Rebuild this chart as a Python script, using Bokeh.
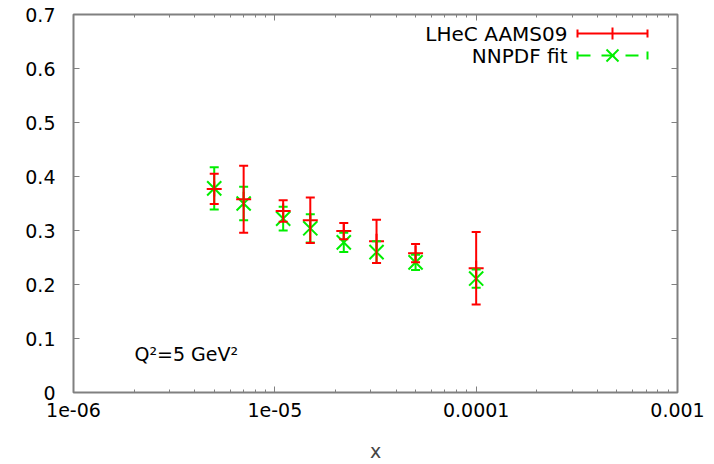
from bokeh.plotting import figure
from bokeh.models import (ColumnDataSource, Whisker, TeeHead, FixedTicker, LinearAxis,
                          LogAxis, Label, Arrow, Range1d)
from bokeh.embed import file_html
from bokeh.resources import INLINE

# ---- data ----
x_vals = [5e-6, 7e-6, 1.1e-5, 1.5e-5, 2.2e-5, 3.2e-5, 5e-5, 1e-4]
lhec_y = [0.377, 0.358, 0.336, 0.319, 0.299, 0.280, 0.258, 0.230]
lhec_err = [0.028, 0.062, 0.020, 0.042, 0.015, 0.040, 0.017, 0.067]
nnpdf_y = [0.378, 0.350, 0.322, 0.304, 0.278, 0.260, 0.241, 0.211]
nnpdf_err = [0.039, 0.031, 0.022, 0.026, 0.018, 0.020, 0.014, 0.017]

series_names = ["LHeC AAMS09", "NNPDF fit"]
annotation_text = "Q\u00b2=5 GeV\u00b2"
x_axis_title = "x"

x_ticks = [1e-6, 1e-5, 1e-4, 1e-3]
x_tick_labels = ["1e-06", "1e-05", "0.0001", "0.001"]
y_ticks = [0.0, 0.1, 0.2, 0.3, 0.4, 0.5, 0.6, 0.7]
y_tick_labels = ["0", "0.1", "0.2", "0.3", "0.4", "0.5", "0.6", "0.7"]

FONT = "DejaVu Sans"
RED = "#ff0000"
GREEN = "#00ee00"
FRAME = "#808080"

x_minor = [m * t for t in x_ticks[:-1] for m in range(2, 10)]

W, H = 706, 464
p = figure(width=W, height=H, x_axis_type="log",
           x_range=Range1d(x_ticks[0], x_ticks[-1]), y_range=Range1d(y_ticks[0], y_ticks[-1]),
           output_backend="svg", toolbar_location=None,
           min_border_left=73, min_border_right=29, min_border_top=14, min_border_bottom=72)
p.grid.visible = False
p.outline_line_color = FRAME
p.outline_line_width = 2
p.background_fill_color = "white"
p.border_fill_color = "white"

def style_axis(ax, show_labels=True, minor=True):
    ax.axis_line_color = None
    ax.major_tick_in = 6
    ax.major_tick_out = 0
    ax.minor_tick_in = 3 if minor else 0
    ax.minor_tick_out = 0
    ax.major_tick_line_color = FRAME
    ax.minor_tick_line_color = FRAME if minor else None
    ax.major_label_text_font = FONT
    if show_labels:
        ax.major_label_text_color = "black"
        ax.major_label_text_font_size = "19px"
    else:
        ax.major_label_text_color = None
        ax.major_label_text_font_size = "1px"
        ax.major_label_standoff = 0

xt = FixedTicker(ticks=x_ticks, minor_ticks=x_minor)
yt = FixedTicker(ticks=y_ticks, minor_ticks=[])

xa = p.xaxis[0]
xa.ticker = xt
xa.major_label_overrides = {t: l for t, l in zip(x_ticks, x_tick_labels)}
style_axis(xa)
xa.major_label_standoff = 10
xa.axis_label = x_axis_title
xa.axis_label_text_font = FONT
xa.axis_label_text_font_style = "normal"
xa.axis_label_text_font_size = "19px"
xa.axis_label_standoff = 20

ya = p.yaxis[0]
ya.ticker = yt
ya.major_label_overrides = {t: l for t, l in zip(y_ticks, y_tick_labels)}
style_axis(ya, minor=False)
ya.major_label_standoff = 18

top = LogAxis(ticker=FixedTicker(ticks=x_ticks, minor_ticks=x_minor))
style_axis(top, show_labels=False)
p.add_layout(top, "above")
right = LinearAxis(ticker=FixedTicker(ticks=y_ticks, minor_ticks=[]))
style_axis(right, show_labels=False, minor=False)
p.add_layout(right, "right")

# ---- data ----
src_g = ColumnDataSource(dict(x=x_vals, y=nnpdf_y,
                              lo=[v - e for v, e in zip(nnpdf_y, nnpdf_err)],
                              hi=[v + e for v, e in zip(nnpdf_y, nnpdf_err)]))
src_r = ColumnDataSource(dict(x=x_vals, y=lhec_y,
                              lo=[v - e for v, e in zip(lhec_y, lhec_err)],
                              hi=[v + e for v, e in zip(lhec_y, lhec_err)]))

for src, col in ((src_g, GREEN), (src_r, RED)):
    w = Whisker(source=src, base="x", lower="lo", upper="hi", dimension="height",
                line_color=col, line_width=2,
                lower_head=TeeHead(size=9, line_color=col, line_width=2),
                upper_head=TeeHead(size=9, line_color=col, line_width=2),
                level="glyph")
    p.add_layout(w)
    if col == GREEN:
        p.scatter("x", "y", source=src, marker="x", size=20, line_color=col, line_width=2)
    else:
        p.scatter("x", "y", source=src, marker="cross", size=15, line_color=col, line_width=2)

# ---- key (gnuplot style: text right, sample at right); screen units are frame-relative ----
def key_row(yrow, text, col, dash, marker):
    p.add_layout(Label(x=494, y=yrow, x_units="screen", y_units="screen", text=text,
                       text_align="right", text_baseline="middle", text_font=FONT,
                       text_font_size="20px", text_color="black"))
    p.add_layout(Arrow(x_start=504, y_start=yrow, x_end=574, y_end=yrow,
                       start_units="screen", end_units="screen",
                       start=TeeHead(size=8, line_color=col, line_width=2),
                       end=TeeHead(size=8, line_color=col, line_width=2),
                       line_color=col, line_width=2, line_dash=dash))
    if marker == "cross":
        p.add_layout(Arrow(x_start=539, y_start=yrow - 6, x_end=539, y_end=yrow + 6,
                           start_units="screen", end_units="screen", end=None,
                           line_color=col, line_width=2))
    else:
        for d in (1, -1):
            p.add_layout(Arrow(x_start=533, y_start=yrow - 6 * d, x_end=545, y_end=yrow + 6 * d,
                               start_units="screen", end_units="screen", end=None,
                               line_color=col, line_width=2))

key_row(359, series_names[0], RED, "solid", "cross")
key_row(337, series_names[1], GREEN, "13 11", "x")

p.add_layout(Label(x=61, y=39, x_units="screen", y_units="screen", text=annotation_text,
                   text_align="left", text_baseline="middle", text_font=FONT,
                   text_font_size="19px", text_color="black"))

open("out.html", "w").write(file_html(p, INLINE))
